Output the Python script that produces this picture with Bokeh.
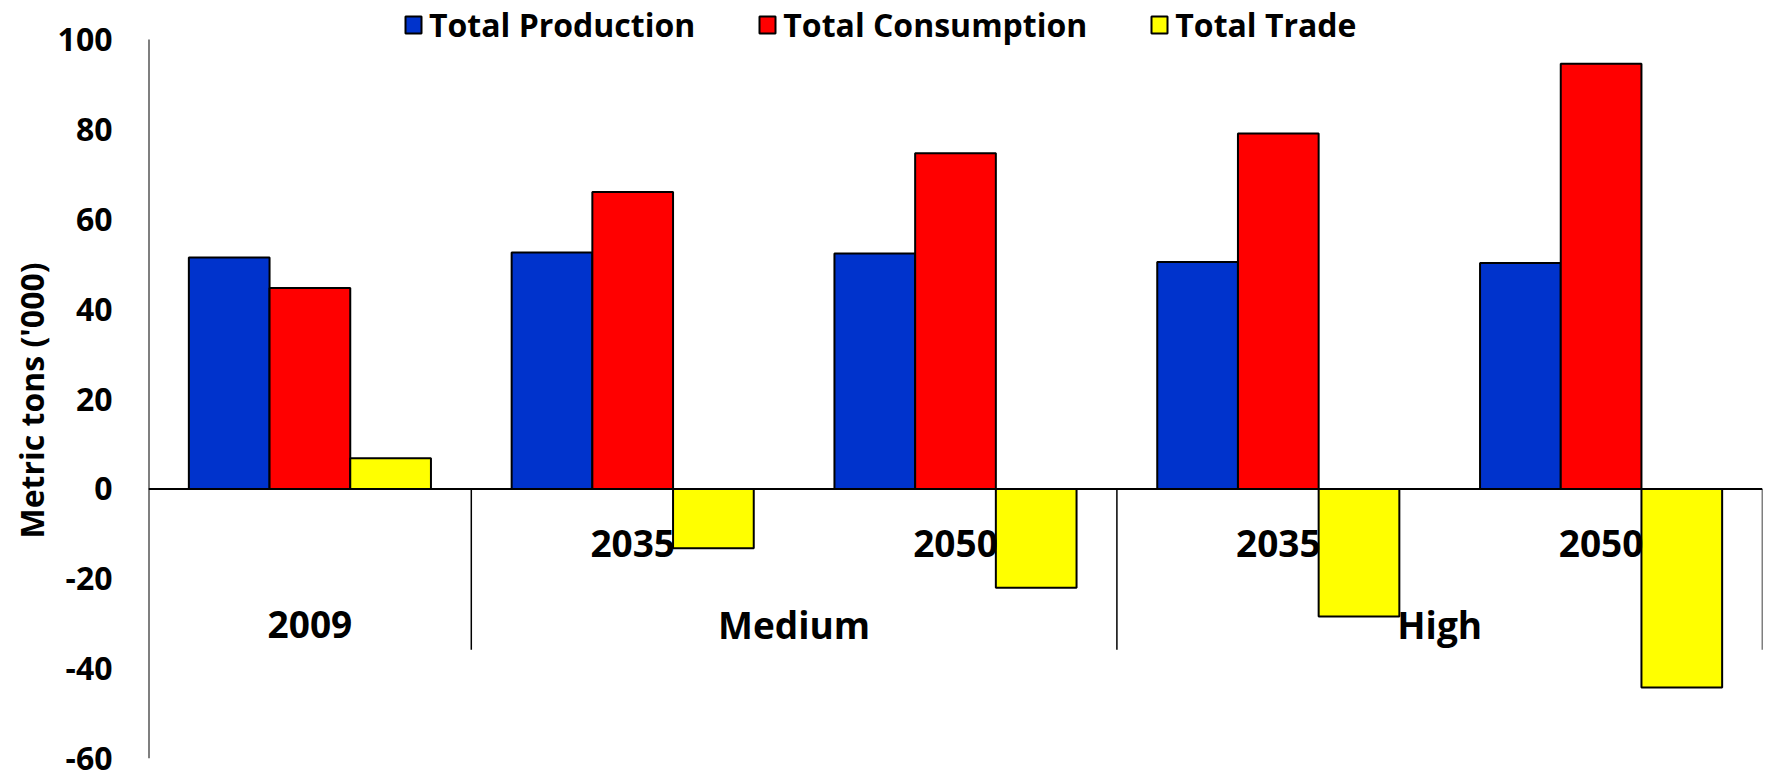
from bokeh.plotting import figure
from bokeh.models import Range1d, FixedTicker, Legend, LegendItem, Span, ColumnDataSource, Title
from bokeh.core.properties import value
from bokeh.embed import file_html
from bokeh.resources import INLINE

# Scenario groups and the years inside each group
groups = ["2009", "Medium", "High"]
group_sizes = [1, 2, 2]
years = ["", "2035", "2050", "2035", "2050"]

# Values in thousand metric tons
production = [51.5, 52.6, 52.4, 50.5, 50.3]
consumption = [44.7, 66.1, 74.7, 79.1, 94.6]
trade = [6.8, -13.2, -22.0, -28.4, -44.2]

series_names = ["Total Production", "Total Consumption", "Total Trade"]
series_values = [production, consumption, trade]
series_colors = ["#0033CC", "#FF0000", "#FFFF00"]

y_ticks = [-60, -40, -20, 0, 20, 40, 60, 80, 100]
y_tick_labels = ["-60", "-40", "-20", "0", "20", "40", "60", "80", "100"]
y_title = "Metric tons ('000)"

FONT = value("Open Sans")
n_cat = len(years)
bar_w = 0.25

# The frame reaches the top edge so the legend band above the value
# range stays inside it; the value axis line is drawn only over the ticks.
headroom = 8.7
p = figure(
    width=1769, height=774,
    x_range=Range1d(0, n_cat),
    y_range=Range1d(y_ticks[0], y_ticks[-1] + headroom),
    x_axis_type=None,
    output_backend="svg", toolbar_location=None,
    min_border_left=148, min_border_right=7, min_border_top=0, min_border_bottom=16,
)
p.outline_line_color = None
p.grid.visible = False
p.background_fill_color = "white"
p.border_fill_color = "white"

# Left value axis (labels only; the line is a segment below)
ax = p.yaxis[0]
ax.ticker = FixedTicker(ticks=y_ticks)
ax.major_label_overrides = {t: s for t, s in zip(y_ticks, y_tick_labels)}
ax.axis_line_color = None
ax.major_tick_out = 0
ax.major_tick_in = 0
ax.minor_tick_out = 0
ax.minor_tick_in = 0
ax.major_label_standoff = 36
ax.major_label_text_font = "Open Sans"
ax.major_label_text_font_style = "bold"
ax.major_label_text_font_size = "32px"
ax.major_label_text_color = "black"

# Axis title, centred on the value range rather than on the whole frame
p.add_layout(Title(text=y_title, align="left", offset=220, standoff=4,
                   text_font="Open Sans", text_font_style="bold",
                   text_font_size="32px", text_color="black"), "left")

p.segment(x0=[0], y0=[y_ticks[0]], x1=[0], y1=[y_ticks[-1]],
          line_color="black", line_width=2)

# Clustered bars
centers = [i + 0.5 for i in range(n_cat)]
offsets = [-bar_w, 0.0, bar_w]
renderers = []
for name, vals, color, off in zip(series_names, series_values, series_colors, offsets):
    src = ColumnDataSource(dict(x=[c + off for c in centers], top=vals))
    r = p.vbar(x="x", top="top", bottom=0, width=bar_w, source=src,
               fill_color=color, line_color="black", line_width=2)
    renderers.append(r)

# Category axis drawn along the zero line
p.add_layout(Span(location=0, dimension="width", line_color="black", line_width=2))

bounds = [0]
for s in group_sizes:
    bounds.append(bounds[-1] + s)
sep_src = ColumnDataSource(dict(x=bounds[1:], y0=[0] * (len(bounds) - 1),
                                y1=[-35.8] * (len(bounds) - 1)))
p.segment(x0="x", y0="y0", x1="x", y1="y1", source=sep_src,
          line_color="black", line_width=1.5)

yr_x = [c for c, yv in zip(centers, years) if yv]
yr_t = [yv for yv in years if yv]
p.text(x=yr_x, y=[-12.1] * len(yr_x), text=yr_t, text_font=FONT,
       text_font_style="bold", text_font_size="37px",
       text_align="center", text_baseline="middle", text_color="black")

grp_x = [(a + b) / 2 for a, b in zip(bounds[:-1], bounds[1:])]
p.text(x=grp_x, y=[-30.2] * len(grp_x), text=groups, text_font=FONT,
       text_font_style="bold", text_font_size="37px",
       text_align="center", text_baseline="middle", text_color="black")

# Legend in the band above the value range
legend = Legend(
    items=[LegendItem(label=n, renderers=[r]) for n, r in zip(series_names, renderers)],
    orientation="horizontal", location=(255, 712),
    glyph_width=20, glyph_height=21, label_standoff=6, spacing=62,
    padding=0, margin=0,
    label_text_font="Open Sans", label_text_font_style="bold",
    label_text_font_size="32px", label_text_color="black",
    border_line_alpha=0, background_fill_alpha=0,
)
p.add_layout(legend, "center")

open("out.html", "w").write(file_html(p, INLINE))
